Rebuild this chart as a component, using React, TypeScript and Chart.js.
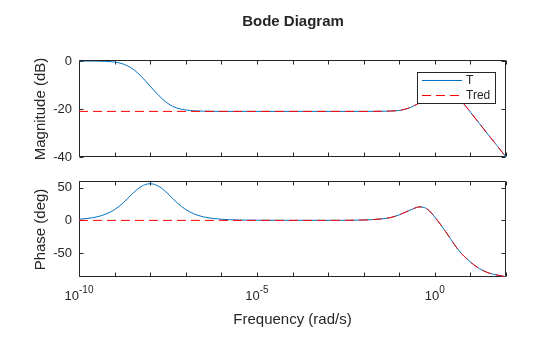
import React, { useEffect, useRef } from "react";
import { Chart, registerables } from "chart.js";

Chart.register(...registerables);

// ---------- data (frequency given as log10 of rad/s) ----------
const lowFreqExp = [-10, -9.75, -9.5, -9.25, -9, -8.75, -8.5, -8.25, -8, -7.75, -7.5, -7.25, -7, -6.75, -6.5, -6, -5, -4, -3];
const magTLow = [0, -0.02, -0.05, -0.15, -0.45, -1.3, -3.2, -6.4, -10.5, -14.5, -17.7, -19.6, -20.4, -20.75, -20.9, -21, -21, -21, -21];
const phaseTLow = [1.7, 3.1, 5.4, 9.6, 16.6, 27.4, 40.9, 52.1, 56.4, 52.1, 40.9, 27.4, 16.6, 9.6, 5.4, 1.8, 0.3, 0.1, 0.1];

const tredLowFreqExp = [-10, -6, -3];
const magTredLow = [-21, -21, -21];
const phaseTredLow = [0, 0, 0.05];

const highFreqExp = [-2, -1.5, -1.25, -1, -0.75, -0.6, -0.45, -0.3, -0.15, 0, 0.15, 0.3, 0.45, 0.6, 0.75, 1, 1.25, 1.5, 1.75, 2];
const magHigh = [-21, -20.95, -20.85, -20.6, -19.7, -18.8, -17.6, -16.3, -15.0, -13.9, -13.2, -13.0, -13.6, -15.0, -16.8, -21.3, -26.0, -30.7, -35.3, -40];
const phaseHigh = [0.6, 2.3, 4.3, 8.5, 14.5, 18, 20.7, 19.8, 14.5, 5, -5.5, -17, -29, -41, -51, -64, -74, -80.5, -84, -86.7];

const seriesNames = ["T", "Tred"];
const xTickExps = [-10, -9, -8, -7, -6, -5, -4, -3, -2, -1, 0, 1, 2];
const xLabelExps = [-10, -5, 0];
const magTicks = [-40, -20, 0];
const phaseTicks = [-50, 0, 50];

const titleText = "Bode Diagram";
const magLabel = "Magnitude (dB)";
const phaseLabel = "Phase (deg)";
const freqLabel = "Frequency (rad/s)";

// ---------- styles ----------
const FONT = "'Liberation Sans', Arial, Helvetica, sans-serif";
const TEXT = "#262626";
const AXIS = "#262626";
const BLUE = "#0072BD";
const RED = "#FF0000";
const DASH = [9, 5];

const pts = (exps: number[], vals: number[]) =>
  exps.map((e, i) => ({ x: Math.pow(10, e), y: vals[i] }));

const frame = (yTicks: number[]) => ({
  id: "frame",
  beforeDatasetsDraw(chart: any) {
    const { ctx, chartArea: a, scales } = chart;
    const xs = scales.x;
    const ys = scales.y;
    const L = Math.round(a.left) + 0.5;
    const R = Math.round(a.right) - 0.5;
    const T = Math.round(a.top) - 0.5;
    const B = Math.round(a.bottom) - 0.5;
    ctx.save();
    ctx.strokeStyle = AXIS;
    ctx.lineWidth = 1;
    ctx.beginPath();
    ctx.rect(L, T, R - L, B - T);
    const tl = 4;
    xTickExps.forEach((e) => {
      const px = Math.round(xs.getPixelForValue(Math.pow(10, e))) + 0.5;
      ctx.moveTo(px, B);
      ctx.lineTo(px, B - tl);
      ctx.moveTo(px, T);
      ctx.lineTo(px, T + tl);
    });
    yTicks.forEach((v) => {
      const py = Math.round(ys.getPixelForValue(v)) + 0.5;
      ctx.moveTo(L, py);
      ctx.lineTo(L + tl, py);
      ctx.moveTo(R, py);
      ctx.lineTo(R - tl, py);
    });
    ctx.stroke();
    ctx.restore();
  },
});

const magExtras = {
  id: "magExtras",
  afterDraw(chart: any) {
    const { ctx } = chart;
    ctx.save();
    // title
    ctx.fillStyle = TEXT;
    ctx.font = `bold 15px ${FONT}`;
    ctx.textAlign = "center";
    ctx.textBaseline = "alphabetic";
    ctx.fillText(titleText, 293, 26);
    // legend
    const bx = 417.5, by = 72.5, bw = 78, bh = 31;
    ctx.fillStyle = "#ffffff";
    ctx.fillRect(bx, by, bw, bh);
    ctx.strokeStyle = AXIS;
    ctx.lineWidth = 1;
    ctx.strokeRect(bx, by, bw, bh);
    const colors = [BLUE, RED];
    const rows = [80.5, 95.5];
    seriesNames.forEach((name, i) => {
      ctx.beginPath();
      ctx.strokeStyle = colors[i];
      ctx.setLineDash(i === 1 ? DASH : []);
      ctx.moveTo(422, rows[i]);
      ctx.lineTo(462, rows[i]);
      ctx.stroke();
      ctx.setLineDash([]);
      ctx.fillStyle = TEXT;
      ctx.font = `12px ${FONT}`;
      ctx.textAlign = "left";
      ctx.textBaseline = "middle";
      ctx.fillText(name, 466, rows[i] + 0.5);
    });
    ctx.restore();
  },
};

const phaseExtras = {
  id: "phaseExtras",
  afterDraw(chart: any) {
    const { ctx, scales, chartArea: a } = chart;
    const xs = scales.x;
    ctx.save();
    ctx.fillStyle = TEXT;
    ctx.textBaseline = "alphabetic";
    ctx.textAlign = "left";
    xLabelExps.forEach((e) => {
      const px = xs.getPixelForValue(Math.pow(10, e));
      ctx.font = `13px ${FONT}`;
      const wb = ctx.measureText("10").width;
      ctx.font = `10px ${FONT}`;
      const we = ctx.measureText(String(e)).width;
      const x0 = px - (wb + we) / 2;
      ctx.font = `13px ${FONT}`;
      ctx.fillText("10", x0, 300);
      ctx.font = `10px ${FONT}`;
      ctx.fillText(String(e), x0 + wb, 293);
    });
    ctx.font = `15px ${FONT}`;
    ctx.textAlign = "center";
    ctx.fillText(freqLabel, (a.left + a.right) / 2, 324);
    ctx.restore();
  },
};

const yAxis = (min: number, max: number, ticks: number[], label: string) => ({
  type: "linear",
  min,
  max,
  afterFit: (s: any) => {
    s.width = 79;
  },
  afterBuildTicks: (s: any) => {
    s.ticks = ticks.map((v) => ({ value: v }));
  },
  grid: { display: false, drawTicks: false },
  border: { display: false },
  ticks: { padding: 7, color: TEXT, font: { family: FONT, size: 13 } },
  title: {
    display: true,
    text: label,
    color: TEXT,
    font: { family: FONT, size: 15 },
    padding: { top: 32, bottom: 0 },
  },
});

const baseDatasets = (tData: any[], tredData: any[]) => [
  {
    label: seriesNames[0],
    data: tData,
    borderColor: BLUE,
    borderWidth: 1,
    pointRadius: 0,
    fill: false,
    cubicInterpolationMode: "monotone",
    order: 1,
  },
  {
    label: seriesNames[1],
    data: tredData,
    borderColor: RED,
    borderWidth: 1,
    borderDash: DASH,
    pointRadius: 0,
    fill: false,
    cubicInterpolationMode: "monotone",
    order: 0,
  },
];

const commonOptions = (top: number, bottom: number) => ({
  responsive: false,
  animation: false,
  events: [],
  layout: { padding: { left: 0, right: 54, top, bottom } },
  plugins: {
    legend: { display: false },
    tooltip: { enabled: false },
    title: { display: false },
  },
});

export default function App() {
  const magRef = useRef<HTMLCanvasElement>(null);
  const phRef = useRef<HTMLCanvasElement>(null);

  useEffect(() => {
    const tMag = pts(lowFreqExp.concat(highFreqExp), magTLow.concat(magHigh));
    const tredMag = pts(tredLowFreqExp.concat(highFreqExp), magTredLow.concat(magHigh));
    const tPh = pts(lowFreqExp.concat(highFreqExp), phaseTLow.concat(phaseHigh));
    const tredPh = pts(tredLowFreqExp.concat(highFreqExp), phaseTredLow.concat(phaseHigh));

    const c1 = new Chart(magRef.current as HTMLCanvasElement, {
      type: "line",
      data: { datasets: baseDatasets(tMag, tredMag) as any },
      options: {
        ...(commonOptions(61, 180) as any),
        scales: {
          x: { type: "logarithmic", min: 1e-10, max: 1e2, display: false },
          y: yAxis(-40, 0, magTicks, magLabel) as any,
        },
      },
      plugins: [frame(magTicks), magExtras],
    });
    const c2 = new Chart(phRef.current as HTMLCanvasElement, {
      type: "line",
      data: { datasets: baseDatasets(tPh, tredPh) as any },
      options: {
        ...(commonOptions(182, 60) as any),
        scales: {
          x: { type: "logarithmic", min: 1e-10, max: 1e2, display: false },
          y: yAxis(-87, 59, phaseTicks, phaseLabel) as any,
        },
      },
      plugins: [frame(phaseTicks), phaseExtras],
    });
    return () => {
      c1.destroy();
      c2.destroy();
    };
  }, []);

  return (
    <div style={{ position: "fixed", left: 0, top: 0, width: 560, height: 337, background: "#ffffff" }}>
      <canvas ref={magRef} width={560} height={337} style={{ position: "absolute", left: 0, top: 0 }} />
      <canvas ref={phRef} width={560} height={337} style={{ position: "absolute", left: 0, top: 0 }} />
    </div>
  );
}
